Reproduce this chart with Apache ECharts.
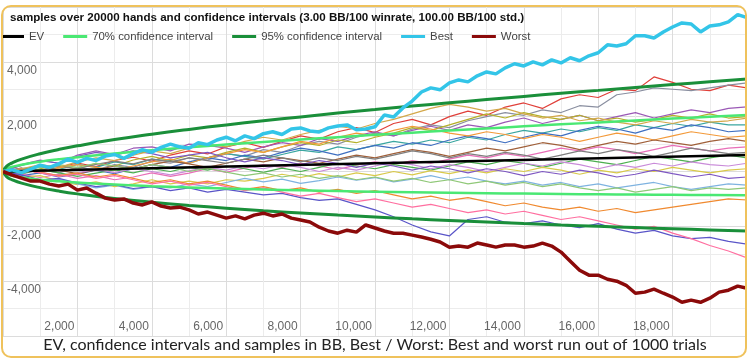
<!DOCTYPE html>
<html>
<head>
<meta charset="utf-8">
<script src="https://cdn.jsdelivr.net/npm/echarts@6/dist/echarts.min.js"></script>
<style>
html,body{margin:0;padding:0;background:#fff;}
#chart{position:absolute;left:0;top:0;width:750px;height:362px;clip-path:inset(6px 4px 5px 2px round 9px);}
#frame{position:absolute;left:1px;top:5px;width:746px;height:353px;box-sizing:border-box;border:2px solid #efc25c;border-radius:10px;pointer-events:none;}
</style>
</head>
<body>
<div id="chart"></div>
<div id="frame"></div>
<script>
// ---------- data ----------
const titleText = 'samples over 20000 hands and confidence intervals (3.00 BB/100 winrate, 100.00 BB/100 std.)';
const captionText = 'EV, confidence intervals and samples in BB, Best / Worst: Best and worst run out of 1000 trials';

const evHands = [0, 20000];
const evValues = [0, 600];

const ciHands = [0, 100, 250, 500, 1000, 1500, 2000, 3000, 4000, 5000, 6000, 7000, 8000, 9000, 10000, 11000, 12000, 13000, 14000, 15000, 16000, 17000, 18000, 19000, 20000];
const ci70Upper = [0, 107, 172, 247, 357, 446, 523, 658, 775, 882, 983, 1077, 1166, 1253, 1336, 1417, 1494, 1571, 1646, 1719, 1791, 1861, 1930, 1998, 2065];
const ci70Lower = [0, -101, -157, -217, -297, -356, -403, -478, -535, -582, -623, -657, -686, -713, -736, -757, -774, -791, -806, -819, -831, -841, -850, -858, -865];
const ci95Upper = [0, 199, 318, 454, 649, 804, 936, 1164, 1359, 1536, 1699, 1851, 1992, 2130, 2260, 2386, 2506, 2624, 2739, 2851, 2959, 3066, 3170, 3271, 3371];
const ci95Lower = [0, -193, -303, -424, -589, -714, -816, -984, -1119, -1236, -1339, -1431, -1512, -1590, -1660, -1726, -1786, -1844, -1899, -1951, -1999, -2046, -2090, -2131, -2171];

const fineHands = [0,250,500,750,1000,1250,1500,1750,2000,2250,2500,2750,3000,3250,3500,3750,4000,4250,4500,4750,5000,5250,5500,5750,6000,6250,6500,6750,7000,7250,7500,7750,8000,8250,8500,8750,9000,9250,9500,9750,10000,10250,10500,10750,11000,11250,11500,11750,12000,12250,12500,12750,13000,13250,13500,13750,14000,14250,14500,14750,15000,15250,15500,15750,16000,16250,16500,16750,17000,17250,17500,17750,18000,18250,18500,18750,19000,19250,19500,19750,20000];
const bestValues = [0, 60, -40, 90, 230, 150, 280, 450, 330, 480, 400, 560, 620, 480, 650, 800, 700, 880, 1000, 900, 850, 1050, 980, 1150, 1250, 1120, 1300, 1200, 1380, 1450, 1350, 1550, 1590, 1480, 1440, 1590, 1660, 1700, 1520, 1550, 1630, 2060, 1990, 2320, 2570, 2900, 3050, 2980, 3230, 3340, 3270, 3490, 3630, 3560, 3780, 3930, 3850, 4000, 3890, 4070, 3960, 4150, 4040, 4220, 4330, 4620, 4580, 4660, 4950, 4950, 4870, 5090, 5270, 5420, 5380, 5090, 5310, 5350, 5460, 5720, 5610];
const worstValues = [0, -130, -240, -350, -350, -460, -530, -460, -680, -600, -790, -970, -1040, -1000, -1150, -1220, -1110, -1260, -1330, -1300, -1400, -1550, -1480, -1590, -1700, -1620, -1730, -1590, -1520, -1620, -1550, -1700, -1770, -1840, -2030, -2170, -2250, -2140, -2210, -1950, -2060, -2170, -2250, -2250, -2320, -2390, -2470, -2570, -2760, -2720, -2760, -2610, -2680, -2760, -2680, -2680, -2760, -2720, -2610, -2720, -2940, -3270, -3600, -3780, -3780, -3930, -4000, -4150, -4440, -4400, -4290, -4440, -4580, -4770, -4690, -4770, -4620, -4400, -4330, -4180, -4260];

const sampleHands = [0,500,1000,1500,2000,2500,3000,3500,4000,4500,5000,5500,6000,6500,7000,7500,8000,8500,9000,9500,10000,10500,11000,11500,12000,12500,13000,13500,14000,14500,15000,15500,16000,16500,17000,17500,18000,18500,19000,19500,20000];
const sampleA = [0, 120, -60, 150, 310, 180, 400, 520, 380, 600, 750, 640, 900, 1050, 880, 1100, 1300, 1180, 1450, 1600, 1420, 1750, 1900, 1700, 2000, 2200, 2050, 2350, 2500, 2300, 2650, 2800, 2700, 3000, 2950, 3450, 3250, 3000, 2950, 3150, 3050];
const sampleB = [0, -100, 80, -50, 150, 60, 250, 150, 380, 300, 500, 420, 650, 560, 800, 700, 950, 1100, 1000, 1250, 1400, 1300, 1550, 1700, 1600, 1850, 2000, 2150, 2050, 2250, 2150, 2400, 2350, 2800, 2900, 3050, 3000, 2950, 3050, 3150, 3230];
const sampleC = [0, 250, 420, 300, 600, 750, 620, 850, 900, 750, 1000, 950, 850, 700, 900, 1050, 950, 1200, 1100, 1300, 1450, 1300, 1500, 1650, 1500, 1700, 1600, 1800, 1950, 1750, 1900, 2050, 1850, 2000, 2150, 1950, 2100, 2250, 2150, 2300, 2360];
const sampleD = [0, -80, 100, 220, 90, 300, 200, 420, 550, 400, 600, 500, 700, 850, 700, 900, 1050, 950, 1150, 1050, 1250, 1400, 1600, 1500, 1700, 1900, 2100, 1950, 2150, 2000, 1900, 2050, 1850, 1950, 1800, 1900, 2050, 1950, 2100, 1950, 2000];
const sampleE = [0, 100, 200, 80, 260, 150, 350, 250, 450, 380, 300, 500, 650, 550, 450, 620, 780, 700, 900, 800, 950, 1100, 1000, 1150, 1050, 1250, 1150, 1350, 1500, 1400, 1550, 1450, 1600, 1500, 1700, 1600, 1750, 1650, 1800, 1700, 1700];
const sampleF = [0, -150, -50, -200, -100, 50, -80, 100, 250, 150, 350, 500, 400, 600, 500, 700, 850, 750, 600, 800, 950, 850, 1050, 950, 1150, 1300, 1200, 1050, 1250, 1400, 1300, 1500, 1650, 1550, 1400, 1600, 1500, 1700, 1600, 1450, 1500];
const sampleG = [0, 80, -40, 120, 250, 150, 50, 200, 350, 450, 300, 500, 650, 800, 700, 900, 1100, 1000, 1250, 1400, 1300, 1500, 1650, 1550, 1400, 1300, 1450, 1350, 1200, 1350, 1250, 1100, 1250, 1400, 1300, 1150, 1300, 1450, 1350, 1250, 1300];
const sampleH = [0, 60, 180, 50, -80, 60, 200, 100, 250, 380, 280, 150, 300, 450, 350, 500, 400, 300, 450, 600, 500, 650, 800, 700, 550, 700, 850, 750, 900, 1050, 950, 800, 950, 1100, 1000, 1150, 1050, 950, 1100, 1200, 1100];
const sampleI = [0, -100, -220, -100, -250, -150, -300, -200, -50, -180, -60, 100, -30, 120, 250, 150, 300, 200, 80, 230, 350, 250, 400, 300, 450, 600, 500, 650, 550, 700, 850, 750, 900, 800, 650, 800, 950, 850, 750, 850, 900];
const sampleJ = [0, 120, 40, 200, 100, 260, 380, 280, 450, 350, 500, 400, 300, 450, 600, 500, 350, 500, 400, 550, 450, 600, 750, 650, 500, 650, 550, 700, 600, 450, 600, 750, 650, 800, 700, 550, 700, 850, 750, 650, 700];
const sampleK = [0, -60, 80, -50, -180, -60, 60, -50, 100, 0, 150, 50, 200, 100, -30, 120, 0, 150, 300, 200, 100, 250, 150, 50, 200, 350, 250, 400, 300, 150, 300, 450, 350, 250, 400, 550, 450, 350, 500, 600, 500];
const sampleL = [0, 100, -20, -150, -50, 80, -40, 100, 0, -120, 20, 150, 50, 200, 100, 250, 150, 0, 150, 50, 200, 350, 250, 100, 250, 150, 0, 150, 300, 200, 350, 250, 100, 250, 150, 300, 200, 350, 250, 200, 300];
const sampleM = [0, -200, -150, -350, -480, -380, -550, -450, -300, -450, -350, -450, -300, -350, -250, -100, -220, -80, -200, -50, -150, 0, -120, 30, -80, 60, -50, 100, 0, 150, 50, -100, 50, -50, 100, 0, 150, 50, -50, 50, 100];
const sampleN = [0, 220, 400, 300, 550, 700, 600, 750, 650, 500, 600, 700, 500, 350, 500, 400, 250, 400, 300, 150, 300, 200, 50, 200, 100, -50, 100, 0, -150, 0, -100, 50, -50, -200, -100, 50, -80, -200, -100, -250, -200];
const sampleO = [0, -180, -350, -280, -450, -600, -500, -650, -550, -600, -450, -550, -400, -250, -380, -280, -430, -330, -200, -320, -220, -380, -280, -150, -300, -200, -350, -450, -350, -500, -400, -550, -450, -600, -500, -400, -550, -650, -550, -450, -500];
const sampleP = [0, 100, -30, -150, -50, -200, -100, -250, -400, -300, -450, -350, -500, -650, -550, -700, -600, -750, -650, -800, -700, -850, -1000, -900, -1050, -950, -1100, -1250, -1150, -1300, -1400, -1300, -1450, -1350, -1500, -1400, -1300, -1200, -1100, -1000, -1040];
const sampleQ = [0, -120, -300, -250, -420, -550, -480, -620, -550, -700, -600, -750, -650, -750, -850, -800, -950, -1050, -1000, -1200, -1400, -1650, -1950, -2200, -2350, -1750, -1650, -1850, -1900, -1800, -1950, -2050, -1900, -2100, -2250, -2150, -2350, -2450, -2400, -2550, -2650];
const sampleR = [0, 80, -50, -180, -100, -250, -150, -300, -450, -350, -500, -400, -550, -700, -600, -750, -900, -800, -950, -1100, -1000, -1150, -1300, -1200, -1350, -1500, -1400, -1550, -1450, -1600, -1750, -1650, -1800, -1950, -2100, -2000, -2250, -2450, -2700, -2900, -3150];
const sampleS = [0, 50, 150, 250, 150, 300, 200, 100, 250, 150, 0, 120, -20, -150, -50, -200, -100, -250, -150, -300, -200, -350, -250, -400, -300, -450, -350, -500, -400, -550, -450, -600, -700, -600, -750, -650, -550, -700, -600, -650, -600];
const sampleT = [0, 100, 250, 150, 350, 500, 400, 600, 750, 650, 850, 1000, 900, 1100, 1250, 1150, 1350, 1500, 1650, 1550, 1750, 1900, 2100, 2300, 2450, 2350, 2200, 2300, 2100, 1950, 2050, 1850, 1950, 1800, 1700, 1850, 1750, 1900, 1800, 1850, 1950];

const samples = [sampleA, sampleB, sampleC, sampleD, sampleE, sampleF, sampleG, sampleH, sampleI, sampleJ,
                 sampleK, sampleL, sampleM, sampleN, sampleO, sampleP, sampleQ, sampleR, sampleS, sampleT];
const sampleColors = ['#e0403a', '#8a8fa0', '#9b59b6', '#b5b02a', '#3aa6a0', '#3f6fc0', '#f39a3a', '#a0603a', '#e86fb8', '#7f7f7f',
                      '#4caf50', '#c98bd9', '#d9c94a', '#7e57c2', '#7fb3e0', '#f08a30', '#5a55c8', '#ff6fa0', '#90c878', '#d4a84a'];

// ---------- chart ----------
const pairs = (xs, ys) => xs.map((x, i) => [x, ys[i]]);
const labelFont = 'Liberation Sans, Arial, sans-serif';

const series = [];
samples.forEach((s, i) => {
  series.push({
    type: 'line', name: 'sample' + i, data: pairs(sampleHands, s), showSymbol: false,
    lineStyle: { width: 1.2, color: sampleColors[i] }, itemStyle: { color: sampleColors[i] }, silent: true
  });
});
series.push({ type: 'line', name: '70% confidence interval', data: pairs(ciHands, ci70Upper), smooth: true, showSymbol: false,
  lineStyle: { width: 2.5, color: '#4ae873' }, itemStyle: { color: '#4ae873' } });
series.push({ type: 'line', name: '70% confidence interval', data: pairs(ciHands, ci70Lower), smooth: true, showSymbol: false,
  lineStyle: { width: 2.5, color: '#4ae873' }, itemStyle: { color: '#4ae873' } });
series.push({ type: 'line', name: '95% confidence interval', data: pairs(ciHands, ci95Upper), smooth: true, showSymbol: false,
  lineStyle: { width: 3, color: '#1a8f3a' }, itemStyle: { color: '#1a8f3a' } });
series.push({ type: 'line', name: '95% confidence interval', data: pairs(ciHands, ci95Lower), smooth: true, showSymbol: false,
  lineStyle: { width: 3, color: '#1a8f3a' }, itemStyle: { color: '#1a8f3a' } });
series.push({ type: 'line', name: 'EV', data: pairs(evHands, evValues), showSymbol: false,
  lineStyle: { width: 2.5, color: '#000' }, itemStyle: { color: '#000' } });
series.push({ type: 'line', name: 'Best', data: pairs(fineHands, bestValues), showSymbol: false,
  lineStyle: { width: 3.5, color: '#33c5e8' }, itemStyle: { color: '#33c5e8' } });
series.push({ type: 'line', name: 'Worst', data: pairs(fineHands, worstValues), showSymbol: false,
  lineStyle: { width: 3.5, color: '#8b0a0a' }, itemStyle: { color: '#8b0a0a' } });

const fmt = v => v.toLocaleString('en-US');
const chart = echarts.init(document.getElementById('chart'), null, { renderer: 'canvas' });
chart.setOption({
  animation: false,
  backgroundColor: '#fff',
  title: [
    { text: titleText, left: 10, top: 12, padding: 0,
      textStyle: { fontSize: 11.6, fontWeight: 'bold', color: '#111', fontFamily: labelFont } },
    { text: captionText, left: 'center', top: 337, padding: 0,
      textStyle: { fontSize: 16, fontWeight: 'normal', color: '#222', fontFamily: 'Lato, sans-serif' } }
  ],
  legend: {
    data: ['EV', '70% confidence interval', '95% confidence interval', 'Best', 'Worst'],
    left: 0, top: 31, padding: 0, itemGap: 19, itemWidth: 24, itemHeight: 3, icon: 'rect',
    textStyle: { fontSize: 11.4, color: '#444', fontFamily: labelFont }
  },
  grid: { left: 2, right: 1, top: 7, bottom: 26, containLabel: false },
  xAxis: {
    type: 'value', min: 0, max: 20000, interval: 1000,
    axisLine: { show: false }, axisTick: { show: false },
    splitLine: { show: true, lineStyle: { color: ['#dcdcdc', '#ececec'], width: 1 } },
    axisLabel: {
      inside: true, margin: 3, align: 'right', verticalAlign: 'bottom', padding: [0, 3, 0, 0],
      color: '#666', fontSize: 12, fontFamily: labelFont,
      formatter: v => (v % 2000 === 0 && v > 0 && v < 20000) ? fmt(v) : ''
    }
  },
  yAxis: {
    type: 'value', min: -6000, max: 6000, interval: 1000,
    axisLine: { show: false }, axisTick: { show: false },
    splitLine: { show: true, lineStyle: { color: ['#dcdcdc', '#ececec'], width: 1 } },
    axisLabel: {
      inside: true, margin: 4, align: 'left', verticalAlign: 'top', padding: [3, 0, 0, 0],
      color: '#666', fontSize: 12, fontFamily: labelFont,
      formatter: v => (v % 2000 === 0 && v !== 0 && Math.abs(v) < 6000) ? fmt(v) : ''
    }
  },
  series: series
});
</script>
</body>
</html>
